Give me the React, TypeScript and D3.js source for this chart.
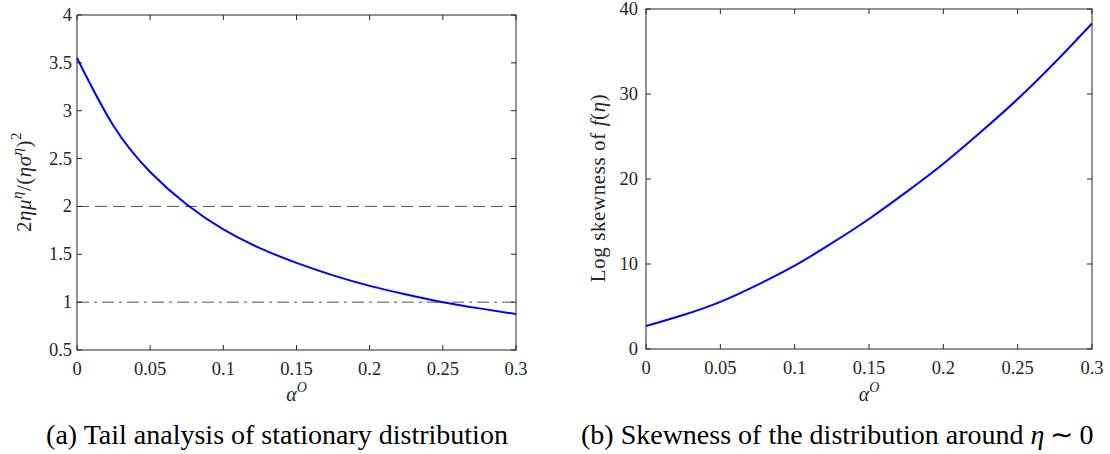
import React from "react";
import * as d3 from "d3";

const alphaA = [0, 0.025, 0.05, 0.075, 0.1, 0.125, 0.15, 0.175, 0.2, 0.225, 0.25, 0.275, 0.3];
const tailRatio = [3.55, 2.84, 2.36, 2.02, 1.76, 1.565, 1.41, 1.28, 1.17, 1.08, 1.0, 0.935, 0.875];
const alphaB = [0, 0.025, 0.05, 0.075, 0.1, 0.125, 0.15, 0.175, 0.2, 0.225, 0.25, 0.275, 0.3];
const logSkew = [2.7, 4.0, 5.55, 7.55, 9.8, 12.45, 15.3, 18.45, 21.8, 25.5, 29.4, 33.7, 38.3];
const xTicks = [0, 0.05, 0.1, 0.15, 0.2, 0.25, 0.3];
const yTicksA = [0.5, 1, 1.5, 2, 2.5, 3, 3.5, 4];
const yTicksB = [0, 10, 20, 30, 40];
const refDashed = 2;
const refDashDot = 1;

const FONT = "Liberation Serif, Tinos, Times New Roman, serif";
const AX = "#262626";

function Panel({ x0, x1, y0, y1, yDomain, yTicks, xs, ys, refs, yLabel, gap }: any) {
  const xs_ = d3.scaleLinear().domain([0, 0.3]).range([x0, x1]);
  const ys_ = d3.scaleLinear().domain(yDomain).range([y1, y0]);
  const line = d3
    .line<number>()
    .x((_, i) => xs_(xs[i]))
    .y((d) => ys_(d))
    .curve(d3.curveNatural);
  const tl = 5;
  return (
    <g>
      {refs}
      <path d={line(ys) || ""} fill="none" stroke="#0000ff" strokeWidth={2} />
      <rect x={x0} y={y0} width={x1 - x0} height={y1 - y0} fill="none" stroke={AX} strokeWidth={1} />
      {xTicks.map((t) => (
        <g key={"x" + t}>
          <line x1={xs_(t)} x2={xs_(t)} y1={y1} y2={y1 - tl} stroke={AX} />
          <line x1={xs_(t)} x2={xs_(t)} y1={y0} y2={y0 + tl} stroke={AX} />
          <text x={xs_(t)} y={y1 + 25} textAnchor="middle" fontFamily={FONT} fontSize={18.5} fill="#262626">
            {String(t)}
          </text>
        </g>
      ))}
      {yTicks.map((t: number) => (
        <g key={"y" + t}>
          <line x1={x0} x2={x0 + tl} y1={ys_(t)} y2={ys_(t)} stroke={AX} />
          <line x1={x1} x2={x1 - tl} y1={ys_(t)} y2={ys_(t)} stroke={AX} />
          <text x={x0 - gap} y={ys_(t) + 6} textAnchor="end" fontFamily={FONT} fontSize={18.5} fill="#262626">
            {String(t)}
          </text>
        </g>
      ))}
      <text x={(x0 + x1) / 2} y={401} textAnchor="middle" fontFamily={FONT} fontSize={20} fontStyle="italic" fill="#262626">
        α<tspan dy={-9} fontSize={14}>O</tspan>
      </text>
      {yLabel}
    </g>
  );
}

export default function App() {
  const ysA = d3.scaleLinear().domain([0.5, 4]).range([350, 15]);
  return (
    <svg width={1110} height={454} style={{ position: "absolute", left: 0, top: 0, background: "#fff" }}>
      <rect width={1110} height={454} fill="#fff" />
      <Panel
        x0={77}
        x1={516}
        y0={15}
        y1={350}
        gap={5}
        yDomain={[0.5, 4]}
        yTicks={yTicksA}
        xs={alphaA}
        ys={tailRatio}
        refs={
          <g>
            <line x1={77} x2={516} y1={ysA(refDashed)} y2={ysA(refDashed)} stroke="#555" strokeWidth={1} strokeDasharray="12,6" />
            <line x1={77} x2={516} y1={ysA(refDashDot)} y2={ysA(refDashDot)} stroke="#555" strokeWidth={1} strokeDasharray="12,5,3,5" />
          </g>
        }
        yLabel={
          <text transform="translate(31,182) rotate(-90)" textAnchor="middle" fontFamily={FONT} fontSize={21} fill="#262626" letterSpacing={0.5}>
            <tspan>2</tspan>
            <tspan fontStyle="italic">ημ</tspan>
            <tspan fontStyle="italic" fontSize={15} dy={-9}>η</tspan>
            <tspan dy={9}>/(</tspan>
            <tspan fontStyle="italic">ησ</tspan>
            <tspan fontStyle="italic" fontSize={15} dy={-9}>η</tspan>
            <tspan dy={9}>)</tspan>
            <tspan fontSize={15} dy={-10}>2</tspan>
          </text>
        }
      />
      <Panel
        x0={646}
        x1={1092}
        y0={9}
        y1={349}
        gap={8}
        yDomain={[0, 40]}
        yTicks={yTicksB}
        xs={alphaB}
        ys={logSkew}
        refs={null}
        yLabel={
          <text transform="translate(605,188) rotate(-90)" textAnchor="middle" fontFamily={FONT} fontSize={21} fill="#262626" letterSpacing={0.6}>
            Log skewness of <tspan fontStyle="italic">f</tspan>(<tspan fontStyle="italic">η</tspan>)
          </text>
        }
      />
      <text x={277} y={444} textAnchor="middle" fontFamily={FONT} fontSize={28} fill="#000">
        (a) Tail analysis of stationary distribution
      </text>
      <text x={581} y={444} textAnchor="start" fontFamily={FONT} fontSize={28} fill="#000">
        (b) Skewness of the distribution around <tspan fontStyle="italic">η</tspan>
        <tspan dx={6}>∼</tspan>
        <tspan dx={6}>0</tspan>
      </text>
    </svg>
  );
}
